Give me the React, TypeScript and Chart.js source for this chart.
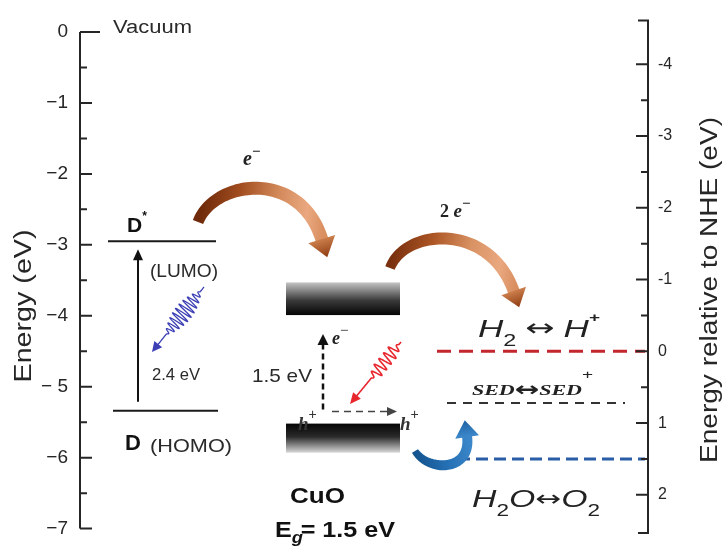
import React, { useEffect, useRef } from "react";
import { Chart, registerables } from "chart.js";

Chart.register(...registerables);

// ---------------- data ----------------
const leftTickValues = [0, -1, -2, -3, -4, -5, -6, -7];
const leftTickLabels = ["0", "−1", "−2", "−3", "−4", "− 5", "−6", "−7"];
const leftMinorTickValues = [-0.5, -1.5, -2.5, -3.5, -4.5, -5.5, -6.5];
const rightTickValues = [-4, -3, -2, -1, 0, 1, 2];
const rightTickLabels = ["-4", "-3", "-2", "-1", "0", "1", "2"];
const rightMinorTickValues = [-3.5, -2.5, -1.5, -0.5, 0.5, 1.5];
const leftAxisRange = [-7, 0];
const rightAxisRange = [-4.45, 2.47];
const rightAxisLineEnds = [-4.61, 2.53];

const donorLevelNames = ["D*", "D"];
const donorLevelEnergies = [-2.95, -5.34];
const cuoBandNames = ["CB", "VB"];
const cuoBandTops = [-3.53, -5.52];
const cuoBandBottoms = [-3.99, -5.93];
const redoxCouples = ["H2/H+", "SED/SED+", "H2O/O2"];
const redoxPotentials = [0, 0.72, 1.5];

// ---------------- layout / style ----------------
const SANS = '"Liberation Sans", Arial, Helvetica, sans-serif';
const SERIF = '"Liberation Serif", "Times New Roman", serif';
const ARROWFONT = '"DejaVu Sans", sans-serif';
const donorSpans = [
  [108, 216],
  [113, 218],
];
const redoxSpans = [
  [437, 645],
  [447, 625],
  [458, 645],
];
const redoxStyles = [
  { color: "#c4262e", width: 3, dash: [14, 8] },
  { color: "#333333", width: 2, dash: [9, 7] },
  { color: "#2b5da6", width: 3, dash: [12, 6] },
];
const bandSpan = [286, 400];

type Run = { t: string; f: string; dy?: number; dx?: number; c?: string };

function drawRuns(ctx: CanvasRenderingContext2D, runs: Run[], x: number, y: number, targetW?: number, color = "#262626") {
  ctx.save();
  ctx.textBaseline = "alphabetic";
  ctx.textAlign = "left";
  let w = 0;
  for (const r of runs) {
    ctx.font = r.f;
    w += ctx.measureText(r.t).width + (r.dx || 0);
  }
  const s = targetW ? targetW / w : 1;
  ctx.translate(x, y);
  ctx.scale(s, 1);
  let cx = 0;
  for (const r of runs) {
    ctx.font = r.f;
    ctx.fillStyle = r.c || color;
    ctx.fillText(r.t, cx, r.dy || 0);
    cx += ctx.measureText(r.t).width + (r.dx || 0);
  }
  ctx.restore();
}

function drawRotated(ctx: CanvasRenderingContext2D, text: string, cx: number, cy: number, font: string, len: number, color: string) {
  ctx.save();
  ctx.translate(cx, cy);
  ctx.rotate(-Math.PI / 2);
  ctx.font = font;
  const w = ctx.measureText(text).width;
  ctx.scale(len / w, 1);
  ctx.textAlign = "center";
  ctx.textBaseline = "middle";
  ctx.fillStyle = color;
  ctx.fillText(text, 0, 0);
  ctx.restore();
}

function arrowHead(ctx: CanvasRenderingContext2D, tx: number, ty: number, ux: number, uy: number, len: number, half: number, fill: string | CanvasGradient) {
  const nx = -uy, ny = ux;
  ctx.beginPath();
  ctx.moveTo(tx, ty);
  ctx.lineTo(tx - ux * len + nx * half, ty - uy * len + ny * half);
  ctx.lineTo(tx - ux * len - nx * half, ty - uy * len - ny * half);
  ctx.closePath();
  ctx.fillStyle = fill;
  ctx.fill();
}

function straightArrow(ctx: CanvasRenderingContext2D, sx: number, sy: number, tx: number, ty: number, color: string, lw: number, dash: number[], hl: number, hh: number) {
  const L = Math.hypot(tx - sx, ty - sy);
  const ux = (tx - sx) / L, uy = (ty - sy) / L;
  ctx.save();
  ctx.strokeStyle = color;
  ctx.lineWidth = lw;
  ctx.setLineDash(dash);
  ctx.beginPath();
  ctx.moveTo(sx, sy);
  ctx.lineTo(tx - ux * hl * 0.8, ty - uy * hl * 0.8);
  ctx.stroke();
  ctx.setLineDash([]);
  arrowHead(ctx, tx, ty, ux, uy, hl, hh, color);
  ctx.restore();
}

function wavyArrow(ctx: CanvasRenderingContext2D, sx: number, sy: number, tx: number, ty: number, color: string, amp: number, cycles: number, a: number, b: number, hl: number, hh: number, lw: number, taper: boolean) {
  const L = Math.hypot(tx - sx, ty - sy);
  const ux = (tx - sx) / L, uy = (ty - sy) / L;
  const nx = -uy, ny = ux;
  const bodyL = L - hl * 0.8;
  ctx.save();
  ctx.strokeStyle = color;
  ctx.lineWidth = lw;
  ctx.lineJoin = "round";
  ctx.beginPath();
  for (let s = 0; s <= bodyL; s += 0.3) {
    const u = s / bodyL;
    let off = 0;
    if (u >= a && u <= b) {
      const v = (u - a) / (b - a);
      const env = taper ? Math.pow(Math.sin(Math.PI * v), 0.7) : Math.min(1, v * 5, (1 - v) * 5);
      off = amp * env * Math.sin(2 * Math.PI * cycles * v);
    }
    const px = sx + ux * s + nx * off, py = sy + uy * s + ny * off;
    if (s === 0) ctx.moveTo(px, py);
    else ctx.lineTo(px, py);
  }
  ctx.stroke();
  arrowHead(ctx, tx, ty, ux, uy, hl, hh, color);
  ctx.restore();
}

function bandArrow(
  ctx: CanvasRenderingContext2D,
  P: number[][],
  wTail: number,
  wMid: number,
  hl: number,
  hh: number,
  stops: [number, string][],
  headStops: [number, string][]
) {
  const bez = (t: number) => {
    const m = 1 - t;
    return [
      m * m * m * P[0][0] + 3 * m * m * t * P[1][0] + 3 * m * t * t * P[2][0] + t * t * t * P[3][0],
      m * m * m * P[0][1] + 3 * m * m * t * P[1][1] + 3 * m * t * t * P[2][1] + t * t * t * P[3][1],
    ];
  };
  const der = (t: number) => {
    const m = 1 - t;
    return [
      3 * m * m * (P[1][0] - P[0][0]) + 6 * m * t * (P[2][0] - P[1][0]) + 3 * t * t * (P[3][0] - P[2][0]),
      3 * m * m * (P[1][1] - P[0][1]) + 6 * m * t * (P[2][1] - P[1][1]) + 3 * t * t * (P[3][1] - P[2][1]),
    ];
  };
  const N = 60;
  const left: number[][] = [], right: number[][] = [];
  for (let i = 0; i <= N; i++) {
    const t = i / N;
    const p = bez(t);
    const d = der(t);
    const l = Math.hypot(d[0], d[1]);
    const nx = -d[1] / l, ny = d[0] / l;
    const w = (wTail + (wMid - wTail) * Math.min(1, t * 2.5)) / 2;
    left.push([p[0] + nx * w, p[1] + ny * w]);
    right.push([p[0] - nx * w, p[1] - ny * w]);
  }
  const g = ctx.createLinearGradient(P[0][0], P[0][1], P[3][0], P[3][1]);
  for (const [o, c] of stops) g.addColorStop(o, c);
  ctx.save();
  ctx.beginPath();
  ctx.moveTo(left[0][0], left[0][1]);
  for (const p of left) ctx.lineTo(p[0], p[1]);
  for (let i = right.length - 1; i >= 0; i--) ctx.lineTo(right[i][0], right[i][1]);
  ctx.closePath();
  ctx.fillStyle = g;
  ctx.fill();
  const d = der(1);
  const l = Math.hypot(d[0], d[1]);
  const ux = d[0] / l, uy = d[1] / l;
  const tx = P[3][0] + ux * hl, ty = P[3][1] + uy * hl;
  const hg = ctx.createLinearGradient(P[3][0], P[3][1], tx, ty);
  for (const [o, c] of headStops) hg.addColorStop(o, c);
  arrowHead(ctx, tx, ty, ux, uy, hl + 1, hh, hg);
  ctx.restore();
}

const diagramPlugin = {
  id: "diagram",
  afterDatasetsDraw(chart: any) {
    const ctx: CanvasRenderingContext2D = chart.ctx;
    const xs = chart.scales.x;
    const ys = chart.scales.y;
    const yr = chart.scales.y1;
    const X = (v: number) => xs.getPixelForValue(v);
    const Y = (v: number) => ys.getPixelForValue(v);
    const YR = (v: number) => yr.getPixelForValue(v);
    const ca = chart.chartArea;

    // ---- axes lines and tick marks ----
    ctx.save();
    ctx.strokeStyle = "#262626";
    ctx.lineWidth = 2;
    ctx.beginPath();
    ctx.moveTo(ca.left, Y(leftTickValues[0]));
    ctx.lineTo(ca.left, Y(leftTickValues[leftTickValues.length - 1]));
    leftTickValues.forEach((v, i) => {
      ctx.moveTo(ca.left, Y(v));
      ctx.lineTo(ca.left + (i === 0 ? 20 : 12), Y(v));
    });
    leftMinorTickValues.forEach((v) => {
      ctx.moveTo(ca.left, Y(v));
      ctx.lineTo(ca.left + 7, Y(v));
    });
    ctx.moveTo(ca.right - 10, YR(rightAxisLineEnds[0]));
    ctx.lineTo(ca.right, YR(rightAxisLineEnds[0]));
    ctx.lineTo(ca.right, YR(rightAxisLineEnds[1]));
    ctx.lineTo(ca.right - 10, YR(rightAxisLineEnds[1]));
    rightTickValues.forEach((v) => {
      ctx.moveTo(ca.right, YR(v));
      ctx.lineTo(ca.right - 12, YR(v));
    });
    rightMinorTickValues.forEach((v) => {
      ctx.moveTo(ca.right, YR(v));
      ctx.lineTo(ca.right - 7, YR(v));
    });
    ctx.stroke();
    ctx.restore();

    // ---- axis titles ----
    drawRotated(ctx, "Energy (eV)", 25, 306, `23px ${SANS}`, 153, "#262626");
    drawRotated(ctx, "Energy relative to NHE (eV)", 711, 290, `23px ${SANS}`, 346, "#262626");

    // ---- CuO bands ----
    cuoBandNames.forEach((name, i) => {
      const top = Y(cuoBandTops[i]);
      const bot = Y(cuoBandBottoms[i]);
      const g = ctx.createLinearGradient(0, top, 0, bot);
      if (name === "CB") {
        g.addColorStop(0, "#c4c4c4");
        g.addColorStop(0.55, "#3a3a3a");
        g.addColorStop(1, "#050505");
      } else {
        g.addColorStop(0, "#050505");
        g.addColorStop(0.45, "#2a2a2a");
        g.addColorStop(1, "#d8d8d8");
      }
      ctx.fillStyle = g;
      ctx.fillRect(X(bandSpan[0]), top, X(bandSpan[1]) - X(bandSpan[0]), bot - top);
    });

    // ---- arrows ----
    const yDs = Y(donorLevelEnergies[0]);
    const yD = Y(donorLevelEnergies[1]);
    straightArrow(ctx, X(138), yD - 9, X(138), yDs + 8, "#111", 2, [], 11, 5);
    const yCB = Y(cuoBandBottoms[0]);
    const yVB = Y(cuoBandTops[1]);
    straightArrow(ctx, X(323), yVB - 14, X(323), yCB + 19, "#111", 2.5, [6, 4], 11, 5.5);
    straightArrow(ctx, X(332), yVB - 12, X(397), yVB - 12, "#444", 1.5, [7, 5], 10, 4.5);

    wavyArrow(ctx, X(204), 287, X(152), 352, "#3c40b4", 9, 10, 0.08, 0.8, 10, 5, 1.3, true);
    wavyArrow(ctx, X(401), 342, X(350), 404, "#e8262e", 6.5, 6, 0.04, 0.66, 11, 5, 1.6, false);

    bandArrow(
      ctx,
      [[X(198), 222], [X(214), 180], [X(300), 168], [X(322), 240]],
      11,
      13,
      18,
      14,
      [[0, "#6e2a0a"], [0.3, "#a24d1f"], [0.6, "#d2895a"], [0.85, "#eaa880"], [1, "#d98f60"]],
      [[0, "#c87a48"], [1, "#8e3c12"]]
    );
    bandArrow(
      ctx,
      [[X(390), 268], [X(405), 228], [X(490), 222], [X(514), 292]],
      10,
      12,
      16,
      13,
      [[0, "#7a300e"], [0.3, "#ae5726"], [0.6, "#d99263"], [0.85, "#eaa880"], [1, "#d98f60"]],
      [[0, "#c87a48"], [1, "#8e3c12"]]
    );
    bandArrow(
      ctx,
      [[X(415), 451], [X(428), 472], [X(472), 472], [X(467), 436]],
      7,
      10,
      16,
      12,
      [[0, "#14548f"], [0.5, "#2570b4"], [1, "#3a86c8"]],
      [[0, "#3a86c8"], [1, "#1d62a2"]]
    );

    // ---- texts ----
    const c = "#2a2a2a";
    drawRuns(ctx, [{ t: "Vacuum", f: `18px ${SANS}` }], 113, 33, 79, c);
    drawRuns(ctx, [{ t: "D", f: `bold 21px ${SANS}` }, { t: "*", f: `bold 12px ${SANS}`, dy: -12 }], 127, yDs - 9, undefined, "#111");
    drawRuns(ctx, [{ t: "(LUMO)", f: `18px ${SANS}` }], 150, 277, 68, c);
    drawRuns(ctx, [{ t: "2.4 eV", f: `16.5px ${SANS}` }], 152, 380, 48, c);
    drawRuns(ctx, [{ t: "D", f: `bold 22px ${SANS}` }], 125, 450, undefined, "#111");
    drawRuns(ctx, [{ t: "(HOMO)", f: `19px ${SANS}` }], 150, 452, 82, c);

    drawRuns(ctx, [{ t: "e", f: `italic bold 20px ${SERIF}` }, { t: "−", f: `bold 15px ${SERIF}`, dy: -9 }], 243, 165, undefined, "#222");
    drawRuns(ctx, [{ t: "2 ", f: `bold 18px ${SERIF}` }, { t: "e", f: `italic bold 19px ${SERIF}` }, { t: "−", f: `bold 15px ${SERIF}`, dy: -9 }], 440, 217, undefined, "#222");

    drawRuns(ctx, [{ t: "1.5 eV", f: `19px ${SANS}` }], 252, 382, 60, c);
    drawRuns(ctx, [{ t: "e", f: `italic bold 18px ${SERIF}` }, { t: "−", f: `15px ${SERIF}`, dy: -9 }], 332, 344, undefined, "#222");
    drawRuns(ctx, [{ t: "h", f: `italic bold 19px ${SERIF}` }, { t: "+", f: `14px ${SANS}`, dy: -11 }], 298, 430, undefined, "#333");
    drawRuns(ctx, [{ t: "h", f: `italic bold 19px ${SERIF}` }, { t: "+", f: `14px ${SANS}`, dy: -11 }], 400, 430, undefined, "#333");

    drawRuns(ctx, [{ t: "CuO", f: `bold 22px ${SANS}` }], 290, 503, 55, "#111");
    drawRuns(
      ctx,
      [
        { t: "E", f: `bold 22px ${SANS}` },
        { t: "g", f: `italic bold 16px ${SANS}`, dy: 6, dx: -2 },
        { t: "= 1.5 eV", f: `bold 22px ${SANS}` },
      ],
      275,
      537,
      120,
      "#111"
    );

    drawRuns(
      ctx,
      [
        { t: "H", f: `italic 24px ${SANS}` },
        { t: "2", f: `16px ${SANS}`, dy: 9 },
        { t: " ", f: `22px ${SANS}` },
        { t: "↔", f: `24px ${ARROWFONT}`, dy: -1 },
        { t: " ", f: `22px ${SANS}` },
        { t: "H", f: `italic 24px ${SANS}` },
        { t: "+", f: `bold 13px ${SANS}`, dy: -15 },
      ],
      478,
      337,
      122,
      "#222"
    );
    drawRuns(
      ctx,
      [
        { t: "SED", f: `italic bold 15px ${SERIF}` },
        { t: "↔", f: `bold 20px ${ARROWFONT}`, dy: 1 },
        { t: "SED", f: `italic bold 15px ${SERIF}` },
        { t: "+", f: `13px ${SANS}`, dy: -16 },
      ],
      472,
      395,
      121,
      "#222"
    );
    drawRuns(
      ctx,
      [
        { t: "H", f: `italic 24px ${SANS}` },
        { t: "2", f: `16px ${SANS}`, dy: 9 },
        { t: "O", f: `italic 24px ${SANS}` },
        { t: "↔", f: `22px ${ARROWFONT}`, dy: -1 },
        { t: "O", f: `italic 24px ${SANS}` },
        { t: "2", f: `16px ${SANS}`, dy: 9 },
      ],
      472,
      507,
      128,
      "#222"
    );
  },
};

export default function App() {
  const ref = useRef<HTMLCanvasElement>(null);
  useEffect(() => {
    document.body.style.margin = "0";
    const canvas = ref.current;
    if (!canvas) return;

    const datasets: any[] = [];
    donorLevelNames.forEach((name, i) => {
      datasets.push({
        label: name,
        data: [
          { x: donorSpans[i][0], y: donorLevelEnergies[i] },
          { x: donorSpans[i][1], y: donorLevelEnergies[i] },
        ],
        borderColor: "#1a1a1a",
        borderWidth: 2,
        pointRadius: 0,
        yAxisID: "y",
      });
    });
    redoxCouples.forEach((name, i) => {
      datasets.push({
        label: name,
        data: [
          { x: redoxSpans[i][0], y: redoxPotentials[i] },
          { x: redoxSpans[i][1], y: redoxPotentials[i] },
        ],
        borderColor: redoxStyles[i].color,
        borderWidth: redoxStyles[i].width,
        borderDash: redoxStyles[i].dash,
        pointRadius: 0,
        yAxisID: "y1",
      });
    });

    const chart = new Chart(canvas, {
      type: "line",
      data: { datasets },
      options: {
        animation: false,
        responsive: false,
        maintainAspectRatio: false,
        layout: { padding: { left: 0, right: 0, top: 32, bottom: 9 } },
        plugins: { legend: { display: false }, tooltip: { enabled: false } },
        scales: {
          x: { type: "linear", min: 80, max: 648, display: false },
          y: {
            type: "linear",
            position: "left",
            min: leftAxisRange[0],
            max: leftAxisRange[1],
            afterFit: (s: any) => {
              s.width = 80;
            },
            afterBuildTicks: (s: any) => {
              s.ticks = leftTickValues.map((v) => ({ value: v }));
            },
            grid: { display: false, drawTicks: false },
            border: { display: false },
            ticks: {
              autoSkip: false,
              padding: 12,
              color: "#262626",
              font: { family: SANS, size: 19 },
              callback: (v: any) => {
                const i = leftTickValues.indexOf(Number(v));
                return i >= 0 ? leftTickLabels[i] : "";
              },
            },
          },
          y1: {
            type: "linear",
            position: "right",
            reverse: true,
            min: rightAxisRange[0],
            max: rightAxisRange[1],
            afterFit: (s: any) => {
              s.width = 79;
            },
            afterBuildTicks: (s: any) => {
              s.ticks = rightTickValues.map((v) => ({ value: v }));
            },
            grid: { display: false, drawTicks: false },
            border: { display: false },
            ticks: {
              autoSkip: false,
              padding: 10,
              color: "#262626",
              font: { family: SANS, size: 16 },
              callback: (v: any) => {
                const i = rightTickValues.indexOf(Number(v));
                return i >= 0 ? rightTickLabels[i] : "";
              },
            },
          },
        },
      },
      plugins: [diagramPlugin],
    } as any);
    return () => chart.destroy();
  }, []);

  return (
    <div style={{ width: 727, height: 552, background: "#fff" }}>
      <canvas ref={ref} width={727} height={552} style={{ display: "block", width: 727, height: 552 }} />
    </div>
  );
}
